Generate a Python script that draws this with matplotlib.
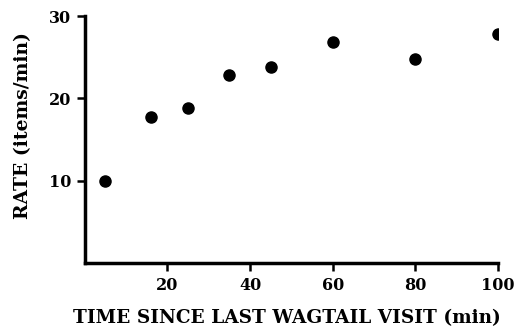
import matplotlib
matplotlib.use("Agg")
import matplotlib.pyplot as plt

# time since last wagtail visit (min) vs intake rate
time_min=[5,16,25,35,45,60,80,100]
rate=[10,17.8,18.9,22.8,23.8,26.8,24.8,27.8]

xticks=[20,40,60,80,100]
yticks=[10,20,30]

plt.rcParams["font.family"]="DejaVu Serif"
plt.rcParams["font.weight"]="bold"

fig=plt.figure(figsize=(5.17,3.36),dpi=100)
ax=fig.add_axes([0.164,0.217,0.799,0.735])

ax.plot(time_min,rate,"o",color="black",markersize=8)

ax.set_xlim(0,100)
ax.set_ylim(0,30)
ax.set_xticks(xticks)
ax.set_yticks(yticks)

for s in ["top","right"]:
    ax.spines[s].set_visible(False)
for s in ["left","bottom"]:
    ax.spines[s].set_linewidth(2.5)

ax.tick_params(axis="both",width=1.8,length=6,labelsize=11.5,pad=4)
for lab in ax.get_xticklabels()+ax.get_yticklabels():
    lab.set_fontweight("bold")

ax.set_xlabel("TIME SINCE LAST WAGTAIL VISIT (min)",fontsize=13.3,fontweight="bold",va="center")
ax.set_ylabel("RATE (items/min)",fontsize=13.5,fontweight="bold",va="center")
ax.xaxis.set_label_coords(0.49,-0.223)
ax.yaxis.set_label_coords(-0.15,0.555)

fig.savefig("out.png",dpi=100)
